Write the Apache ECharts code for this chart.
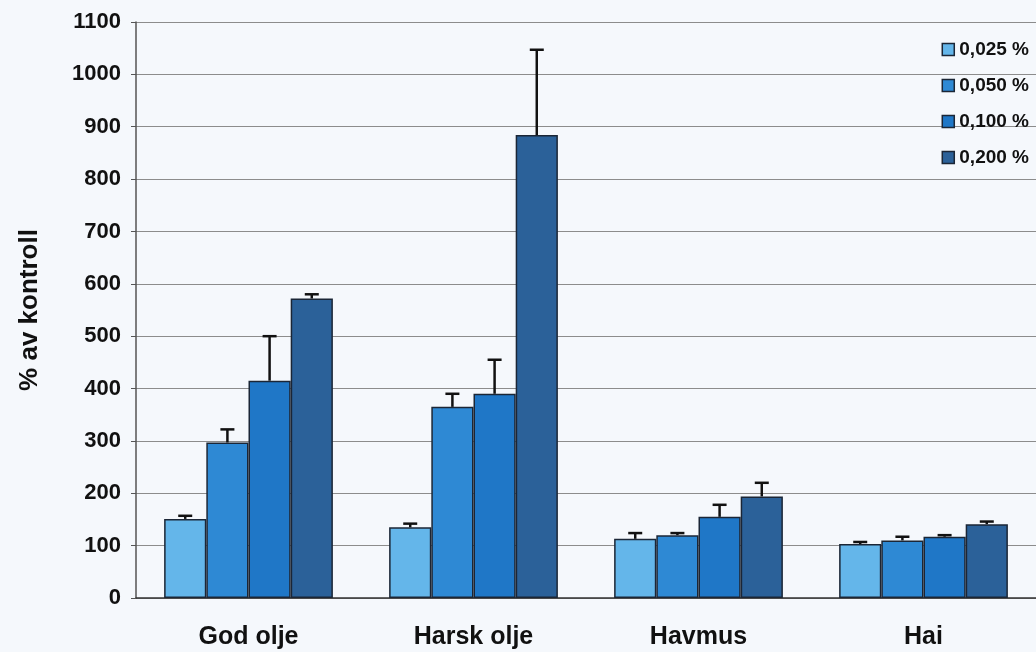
<!DOCTYPE html>
<html>
<head>
<meta charset="utf-8">
<script src="https://cdn.jsdelivr.net/npm/echarts@6/dist/echarts.min.js"></script>
<style>
html,body{margin:0;padding:0;background:#f5f8fc;}
#chart{width:1036px;height:652px;}
</style>
</head>
<body>
<div id="chart"></div>
<script>
const categories = ['God olje', 'Harsk olje', 'Havmus', 'Hai'];
const seriesNames = ['0,025 %', '0,050 %', '0,100 %', '0,200 %'];
const c025 = [151, 135, 113, 103];
const c050 = [297, 365, 120, 110];
const c100 = [415, 390, 155, 117];
const c200 = [572, 884, 194, 141];
const e025 = [6, 7, 11, 4];
const e050 = [25, 25, 4, 7];
const e100 = [85, 65, 23, 3];
const e200 = [8, 163, 26, 5];
const yTicks = { min: 0, max: 1100, interval: 100 };

const means = [c025, c050, c100, c200];
const errs = [e025, e050, e100, e200];
const colors = ['#64b6ea', '#2e89d4', '#1f77c7', '#2b6199'];

const barSeries = seriesNames.map((n, i) => ({
  name: n,
  type: 'bar',
  data: means[i],
  barGap: '0%',
  barCategoryGap: '25%',
  itemStyle: { color: colors[i], borderColor: '#1b2636', borderWidth: 1.5 }
}));

const errData = [];
means.forEach((arr, s) => arr.forEach((v, c) => errData.push([c, v, v + errs[s][c], s])));

const errSeries = {
  type: 'custom',
  name: 'err',
  data: errData,
  encode: { x: 0, y: [1, 2] },
  z: 10,
  silent: true,
  renderItem: function (params, api) {
    const c = api.value(0), lo = api.value(1), hi = api.value(2), s = api.value(3);
    const band = api.size([1, 0])[0];
    const bw = band * 0.75 / 4;
    const x = api.coord([c, 0])[0] + (s - 1.5) * bw;
    const yLo = api.coord([c, lo])[1];
    const yHi = api.coord([c, hi])[1];
    const cap = 7;
    const st = { stroke: '#111', lineWidth: 2.5 };
    return {
      type: 'group',
      children: [
        { type: 'line', shape: { x1: x, y1: yLo, x2: x, y2: yHi }, style: st },
        { type: 'line', shape: { x1: x - cap, y1: yHi, x2: x + cap, y2: yHi }, style: st }
      ]
    };
  }
};

const chart = echarts.init(document.getElementById('chart'));
chart.setOption({
  backgroundColor: '#f5f8fc',
  animation: false,
  textStyle: { fontFamily: 'Liberation Sans, Arial, sans-serif' },
  grid: { left: 136, right: 0, top: 22, bottom: 54, containLabel: false },
  legend: {
    data: seriesNames,
    orient: 'vertical',
    right: 2,
    top: 35,
    icon: 'rect',
    itemWidth: 12,
    itemHeight: 12,
    itemGap: 17,
    itemStyle: { borderColor: '#1b2636', borderWidth: 1.5 },
    textStyle: { fontSize: 19, fontWeight: 'bold', color: '#111' }
  },
  xAxis: {
    type: 'category',
    data: categories,
    axisLine: { lineStyle: { color: '#333', width: 1.5 } },
    axisTick: { show: false },
    axisLabel: { fontSize: 25, fontWeight: 'bold', color: '#111', margin: 27 }
  },
  yAxis: {
    type: 'value',
    min: yTicks.min,
    max: yTicks.max,
    interval: yTicks.interval,
    name: '% av kontroll',
    nameLocation: 'middle',
    nameRotate: 90,
    nameGap: 93,
    nameTextStyle: { fontSize: 26, fontWeight: 'bold', color: '#111' },
    axisLine: { show: true, lineStyle: { color: '#555', width: 1.5 } },
    axisTick: { show: true, length: 5, lineStyle: { color: '#555' } },
    axisLabel: {
      fontSize: 22, fontWeight: 'bold', color: '#111', margin: 15,
      formatter: function (v) { return String(v); }
    },
    splitLine: { lineStyle: { color: '#8c8c8c', width: 1 } }
  },
  series: [...barSeries, errSeries]
});
</script>
</body>
</html>
